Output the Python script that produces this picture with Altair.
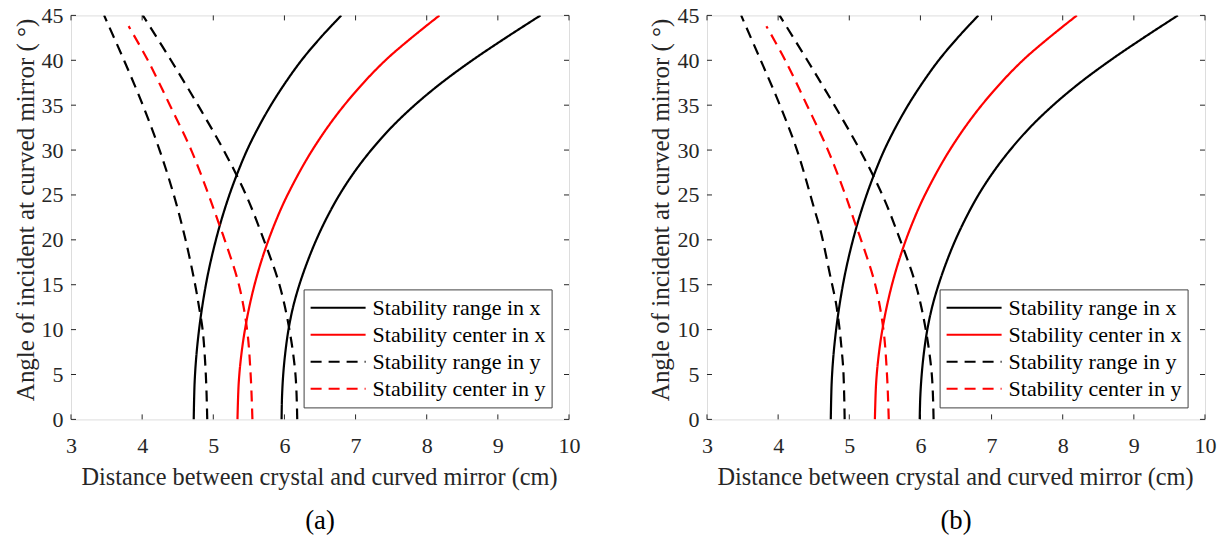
import altair as alt
import pandas as pd

FONT = "Liberation Serif"
AXC = "#262626"

SERIES = ["Stability range in x", "Stability center in x",
          "Stability range in y", "Stability center in y"]
COLORS = ["#000000", "#ff0000", "#000000", "#ff0000"]
DASHES = [[1, 0], [1, 0], [11, 7], [11, 7]]

X_TICKS = [3, 4, 5, 6, 7, 8, 9, 10]
Y_TICKS = [0, 5, 10, 15, 20, 25, 30, 35, 40, 45]

# ---- panel (a) ----
A_RX1_ANG = [0, 4, 7, 10, 13, 16, 19, 22, 25, 27.5, 30, 32.5, 35, 37.5, 40, 42.5, 45]
A_RX1_DIS = [4.725, 4.737, 4.761, 4.80, 4.853, 4.92, 5.005, 5.106, 5.226, 5.343, 5.475,
             5.632, 5.81, 6.013, 6.24, 6.505, 6.80]
A_RX2_ANG = [0, 2.5, 5, 7.5, 10, 12.5, 15, 17.5, 20, 22.5, 25, 27.5, 30, 32.5, 35, 37.5, 40, 42.5, 45]
A_RX2_DIS = [5.96, 5.966, 5.983, 6.013, 6.057, 6.121, 6.21, 6.32, 6.448, 6.598, 6.772, 6.978,
             7.22, 7.50, 7.83, 8.21, 8.64, 9.11, 9.60]
A_CX_ANG = [0, 4, 7, 10, 13, 16, 19, 22, 25, 30, 35, 40, 45]
A_CX_DIS = [5.34, 5.357, 5.391, 5.445, 5.519, 5.614, 5.732, 5.874, 6.043, 6.392, 6.841, 7.42, 8.18]
A_RY1_ANG = [0, 5, 10, 12.5, 15, 20, 25, 30, 35, 40, 45]
A_RY1_DIS = [4.915, 4.895, 4.85, 4.80, 4.745, 4.61, 4.445, 4.245, 4.01, 3.745, 3.465]
A_RY2_ANG = [0, 5, 10, 15, 20, 25, 30, 35, 40, 45]
A_RY2_DIS = [6.18, 6.155, 6.07, 5.93, 5.71, 5.46, 5.145, 4.785, 4.405, 4.01]
A_CY_ANG = [0, 5, 10, 15, 20, 22, 25, 30, 35, 40, 43.8]
A_CY_DIS = [5.55, 5.525, 5.475, 5.36, 5.16, 5.07, 4.935, 4.69, 4.39, 4.08, 3.81]

# ---- panel (b) ----
B_RX1_ANG = [0, 4, 7, 10, 13, 16, 19, 22, 25, 27.5, 30, 32.5, 35, 37.5, 40, 42.5, 45]
B_RX1_DIS = [4.74, 4.752, 4.776, 4.815, 4.868, 4.935, 5.02, 5.122, 5.243, 5.36, 5.492,
             5.649, 5.827, 6.03, 6.257, 6.522, 6.815]
B_RX2_ANG = [0, 2.5, 5, 7.5, 10, 12.5, 15, 17.5, 20, 22.5, 25, 27.5, 30, 32.5, 35, 37.5, 40, 42.5, 45]
B_RX2_DIS = [5.99, 5.998, 6.018, 6.05, 6.097, 6.164, 6.255, 6.365, 6.493, 6.643, 6.815, 7.02,
             7.26, 7.538, 7.866, 8.243, 8.67, 9.135, 9.62]
B_CX_ANG = [0, 4, 7, 10, 13, 16, 19, 22, 25, 30, 35, 40, 45]
B_CX_DIS = [5.36, 5.377, 5.411, 5.465, 5.539, 5.634, 5.752, 5.894, 6.063, 6.412, 6.861, 7.44, 8.20]
B_RY1_ANG = [0, 5.4, 8, 10.5, 13.1, 15.7, 20.9, 23.5, 30, 35, 40, 45]
B_RY1_DIS = [4.935, 4.917, 4.89, 4.857, 4.81, 4.74, 4.60, 4.506, 4.265, 4.025, 3.755, 3.48]
B_RY2_ANG = [0, 5, 10, 15, 20, 25, 30, 35, 40, 45]
B_RY2_DIS = [6.185, 6.16, 6.075, 5.935, 5.715, 5.465, 5.15, 4.79, 4.41, 4.02]
B_CY_ANG = [0, 5, 10, 15, 20, 22, 25, 30, 35, 40, 43.8]
B_CY_DIS = [5.555, 5.53, 5.48, 5.365, 5.165, 5.075, 4.945, 4.70, 4.405, 4.10, 3.835]


def curves_df(curves):
    rows = []
    for cid, (series, angs, dists) in enumerate(curves):
        for a, d in zip(angs, dists):
            rows.append({"series": series, "curve": cid, "angle": a, "dist": d})
    return pd.DataFrame(rows)


DF_A = curves_df([
    (SERIES[0], A_RX1_ANG, A_RX1_DIS), (SERIES[0], A_RX2_ANG, A_RX2_DIS),
    (SERIES[1], A_CX_ANG, A_CX_DIS),
    (SERIES[2], A_RY1_ANG, A_RY1_DIS), (SERIES[2], A_RY2_ANG, A_RY2_DIS),
    (SERIES[3], A_CY_ANG, A_CY_DIS),
])
DF_B = curves_df([
    (SERIES[0], B_RX1_ANG, B_RX1_DIS), (SERIES[0], B_RX2_ANG, B_RX2_DIS),
    (SERIES[1], B_CX_ANG, B_CX_DIS),
    (SERIES[2], B_RY1_ANG, B_RY1_DIS), (SERIES[2], B_RY2_ANG, B_RY2_DIS),
    (SERIES[3], B_CY_ANG, B_CY_DIS),
])

W, H = 498, 404
TICK = 5

XTICK_DF = pd.DataFrame({"dist": X_TICKS})
YTICK_DF = pd.DataFrame({"angle": Y_TICKS})

X_SCALE = alt.Scale(domain=[3, 10], nice=False, zero=False)
Y_SCALE = alt.Scale(domain=[0, 45], nice=False, zero=False)

X_AXIS = alt.Axis(
    values=X_TICKS, format="d", ticks=False, tickSize=0, domain=False, grid=False,
    labelFont=FONT, labelFontSize=22, labelColor=AXC, labelPadding=33,
    labelBaseline="alphabetic", labelFlush=False, labelOverlap=False, labelBound=False,
    title="Distance between crystal and curved mirror (cm)",
    titleFont=FONT, titleFontSize=24.3, titleFontWeight="normal", titleColor=AXC,
    titleX=248, titleY=65, titleBaseline="alphabetic", titleAlign="center",
)
Y_AXIS = alt.Axis(
    values=Y_TICKS, format="d", ticks=False, tickSize=0, domain=False, grid=False,
    labelFont=FONT, labelFontSize=22, labelColor=AXC, labelPadding=8,
    labelBaseline="middle", labelFlush=False, labelOverlap=False, labelBound=False,
    title="Angle of incident at curved mirror ( °)",
    titleFont=FONT, titleFontSize=25, titleFontWeight="normal", titleColor=AXC,
    titleAngle=270, titleX=-38, titleY=194, titleBaseline="alphabetic", titleAlign="center",
)

LEGEND = alt.Legend(
    title=None, orient="none", legendX=232.6, legendY=274,
    symbolType="stroke", symbolSize=3025, symbolStrokeWidth=2,
    labelFont=FONT, labelFontSize=22, labelColor="#000000", labelOffset=6, labelLimit=0,
    padding=6, strokeColor="#404040", fillColor="#ffffff",
    clipHeight=24.7, rowPadding=2, symbolLimit=0,
)


def panel(df, caption):
    x_enc = alt.X("dist:Q", scale=X_SCALE, axis=X_AXIS)
    y_enc = alt.Y("angle:Q", scale=Y_SCALE, axis=Y_AXIS)
    lines = alt.Chart(df).mark_line(strokeWidth=2.2, interpolate="catmull-rom", clip=True).encode(
        x=x_enc, y=y_enc,
        color=alt.Color("series:N", scale=alt.Scale(domain=SERIES, range=COLORS), legend=LEGEND),
        strokeDash=alt.StrokeDash("series:N", scale=alt.Scale(domain=SERIES, range=DASHES), legend=LEGEND),
        detail="curve:N",
        order="angle:Q",
    )
    tb = alt.Chart(XTICK_DF).mark_rule(color=AXC, strokeWidth=1).encode(
        x=x_enc, y=alt.value(H), y2=alt.value(H - TICK))
    tt = alt.Chart(XTICK_DF).mark_rule(color=AXC, strokeWidth=1).encode(
        x=x_enc, y=alt.value(0), y2=alt.value(TICK))
    tl = alt.Chart(YTICK_DF).mark_rule(color=AXC, strokeWidth=1).encode(
        y=y_enc, x=alt.value(0), x2=alt.value(TICK))
    tr = alt.Chart(YTICK_DF).mark_rule(color=AXC, strokeWidth=1).encode(
        y=y_enc, x=alt.value(W - TICK), x2=alt.value(W))
    return alt.layer(tb, tt, tl, tr, lines).properties(
        width=W, height=H,
        title=alt.TitleParams(caption, orient="bottom", anchor="middle", font=FONT,
                              fontSize=26.7, fontWeight="normal", color="#000000", offset=18),
    )


chart = alt.hconcat(panel(DF_A, "(a)"), panel(DF_B, "(b)"), spacing=138, bounds="flush").resolve_scale(
    color="independent", strokeDash="independent"
).resolve_legend(color="independent", strokeDash="independent").properties(
    padding={"left": 12, "top": 3.4, "right": 0, "bottom": 0}
).configure_view(stroke=AXC, strokeWidth=1).configure(background="white")

chart.save("out.html", embed_options={"renderer": "svg", "actions": False})
